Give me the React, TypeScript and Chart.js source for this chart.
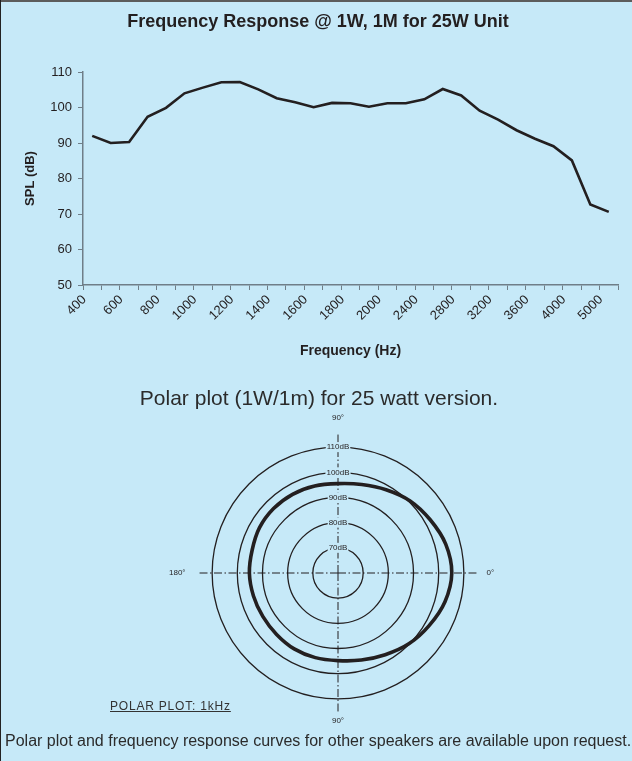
import React, { useEffect, useRef } from 'react';
import { Chart, registerables } from 'chart.js';

Chart.register(...registerables);

const FONT = "'Liberation Sans', Arial, Helvetica, sans-serif";
const BG = '#c6e9f8';
const INK = '#231f20';
const AXIS = '#6f7e88';

// ---- Frequency response chart data ----
const freqCategories = [
  '400', '', '600', '', '800', '', '1000', '', '1200', '', '1400', '', '1600', '', '1800', '',
  '2000', '', '2400', '', '2800', '', '3200', '', '3600', '', '4000', '', '5000',
];
const splValues = [
  92, 90, 90.3, 97.4, 99.9, 104, 105.6, 107.1, 107.2, 105.1, 102.6, 101.5, 100.1, 101.3, 101.2,
  100.2, 101.2, 101.2, 102.3, 105.2, 103.4, 99.1, 96.6, 93.6, 91.2, 89.1, 85.1, 72.7, 70.6,
];
const splMin = 50;
const splMax = 110;
const splStep = 10;

// ---- Polar plot data (clockwise from the top) ----
const polarAngles = [90, 75, 60, 45, 30, 15, 0, 345, 330, 315, 300, 285, 270, 255, 240, 225, 210, 195, 180, 165, 150, 135, 120, 105];
const polarSpl = [95.5, 96.4, 98.2, 100.5, 102.3, 104.3, 105.2, 104, 101.8, 99.8, 97.5, 95.8, 94.8, 94.8, 94.8, 94.5, 94.5, 94.8, 95.2, 95.3, 96, 96.2, 96.1, 95.8];
const polarAxisNames: Record<string, string> = { '90': '90°', '0': '0°', '270': '90°', '180': '180°' };
const polarLabelPadding: Record<string, number> = { '90': 7, '0': 5, '270': 0, '180': 9 };
const polarMin = 60;
const polarRingMax = 110;
const polarAxisMax = 115;
const polarStep = 10;

export default function App() {
  const lineRef = useRef<HTMLCanvasElement>(null);
  const polarRef = useRef<HTMLCanvasElement>(null);

  useEffect(() => {
    Chart.defaults.font.family = FONT;
    const lineChart = new Chart(lineRef.current as HTMLCanvasElement, {
      type: 'line',
      data: {
        labels: freqCategories,
        datasets: [
          {
            data: splValues,
            borderColor: INK,
            borderWidth: 2.6,
            pointRadius: 0,
            fill: false,
            tension: 0,
          },
        ],
      },
      options: {
        animation: false,
        responsive: false,
        maintainAspectRatio: false,
        layout: { padding: { left: 18, right: 14, top: 5, bottom: 0 } },
        plugins: {
          legend: { display: false },
          tooltip: { enabled: false },
          title: {
            display: true,
            text: 'Frequency Response @ 1W, 1M for 25W Unit',
            color: INK,
            font: { size: 18, weight: 'bold', family: FONT },
            padding: { top: 6, bottom: 39.4 },
          },
        },
        scales: {
          x: {
            offset: true,
            grid: { offset: true, drawOnChartArea: false, drawTicks: true, tickLength: 5, color: AXIS, lineWidth: 1 },
            border: { color: AXIS, width: 1.5 },
            ticks: {
              autoSkip: false,
              maxRotation: 45,
              minRotation: 45,
              color: INK,
              font: { size: 13, family: FONT },
              padding: 2,
              labelOffset: -8,
            },
            title: {
              display: true,
              text: 'Frequency (Hz)',
              color: INK,
              font: { size: 14, weight: 'bold', family: FONT },
              padding: { top: 0, bottom: 10 },
            },
            afterFit: (s: any) => {
              s.height = 85;
            },
          },
          y: {
            min: splMin,
            max: splMax,
            ticks: { stepSize: splStep, color: INK, font: { size: 13, family: FONT }, padding: 6 },
            grid: { drawOnChartArea: false, drawTicks: true, tickLength: 5, color: AXIS, lineWidth: 1 },
            border: { color: AXIS, width: 1.5 },
            title: {
              display: true,
              text: 'SPL (dB)',
              color: INK,
              font: { size: 13, weight: 'bold', family: FONT },
              padding: { top: 5, bottom: 0 },
            },
            afterFit: (s: any) => {
              s.width = 65;
            },
          },
        },
      },
    });

    const polarChart = new Chart(polarRef.current as HTMLCanvasElement, {
      type: 'radar',
      data: {
        labels: polarAngles.map(String),
        datasets: [
          {
            data: polarSpl,
            borderColor: INK,
            borderWidth: 3.6,
            pointRadius: 0,
            fill: false,
            tension: 0.3,
          },
        ],
      },
      options: {
        animation: false,
        responsive: false,
        maintainAspectRatio: false,
        layout: { padding: 0 },
        plugins: { legend: { display: false }, tooltip: { enabled: false } },
        scales: {
          r: {
            min: polarMin,
            max: polarAxisMax,
            startAngle: 0,
            afterBuildTicks: (s: any) => {
              s.ticks = s.ticks.filter((t: any) => t.value <= polarRingMax);
            },
            ticks: {
              stepSize: polarStep,
              color: INK,
              font: { size: 8, family: FONT },
              callback: (v: any) => `${v}dB`,
              showLabelBackdrop: true,
              backdropColor: BG,
              backdropPadding: { x: 1, y: 1 },
            },
            grid: { circular: true, color: INK, lineWidth: 1.3 },
            angleLines: {
              display: true,
              color: (ctx: any) => (polarAxisNames[String(polarAngles[ctx.index])] ? INK : 'rgba(0,0,0,0)'),
              lineWidth: 1,
              borderDash: [8, 2.5, 1.5, 2.5],
            },
            pointLabels: {
              display: true,
              color: INK,
              font: { size: 8, family: FONT },
              padding: (ctx: any) => polarLabelPadding[String(polarAngles[ctx.index])] ?? 0,
              callback: (label: string) => polarAxisNames[label] ?? '',
            },
          },
        },
      },
    });

    return () => {
      lineChart.destroy();
      polarChart.destroy();
    };
  }, []);

  return (
    <div
      style={{
        position: 'absolute',
        left: 0,
        top: 0,
        width: 632,
        height: 761,
        background: BG,
        overflow: 'hidden',
        fontFamily: FONT,
        color: INK,
      }}
    >
      <div style={{ position: 'absolute', left: 0, top: 0, width: 632, height: 2, background: '#5c5c5c' }} />
      <div style={{ position: 'absolute', left: 0, top: 0, width: 1, height: 761, background: '#222' }} />
      <canvas
        ref={lineRef}
        width={632}
        height={370}
        style={{ position: 'absolute', left: 0, top: 0, width: 632, height: 370 }}
      />
      <canvas
        ref={polarRef}
        width={338}
        height={338}
        style={{ position: 'absolute', left: 163, top: 401, width: 338, height: 338 }}
      />
      <div
        style={{
          position: 'absolute',
          left: 0,
          width: 638,
          top: 386,
          textAlign: 'center',
          fontSize: 21,
          lineHeight: '24px',
          color: '#2b2b2b',
          whiteSpace: 'nowrap',
        }}
      >
        Polar plot (1W/1m) for 25 watt version.
      </div>
      <div
        style={{
          position: 'absolute',
          left: 110,
          top: 699,
          fontSize: 12,
          lineHeight: '14px',
          letterSpacing: '0.8px',
          textDecoration: 'underline',
          color: '#333',
          whiteSpace: 'nowrap',
        }}
      >
        POLAR PLOT: 1kHz
      </div>
      <div
        style={{
          position: 'absolute',
          left: 5,
          top: 731,
          fontSize: 16,
          lineHeight: '20px',
          color: '#2b2b2b',
          whiteSpace: 'nowrap',
        }}
      >
        Polar plot and frequency response curves for other speakers are available upon request.
      </div>
    </div>
  );
}
